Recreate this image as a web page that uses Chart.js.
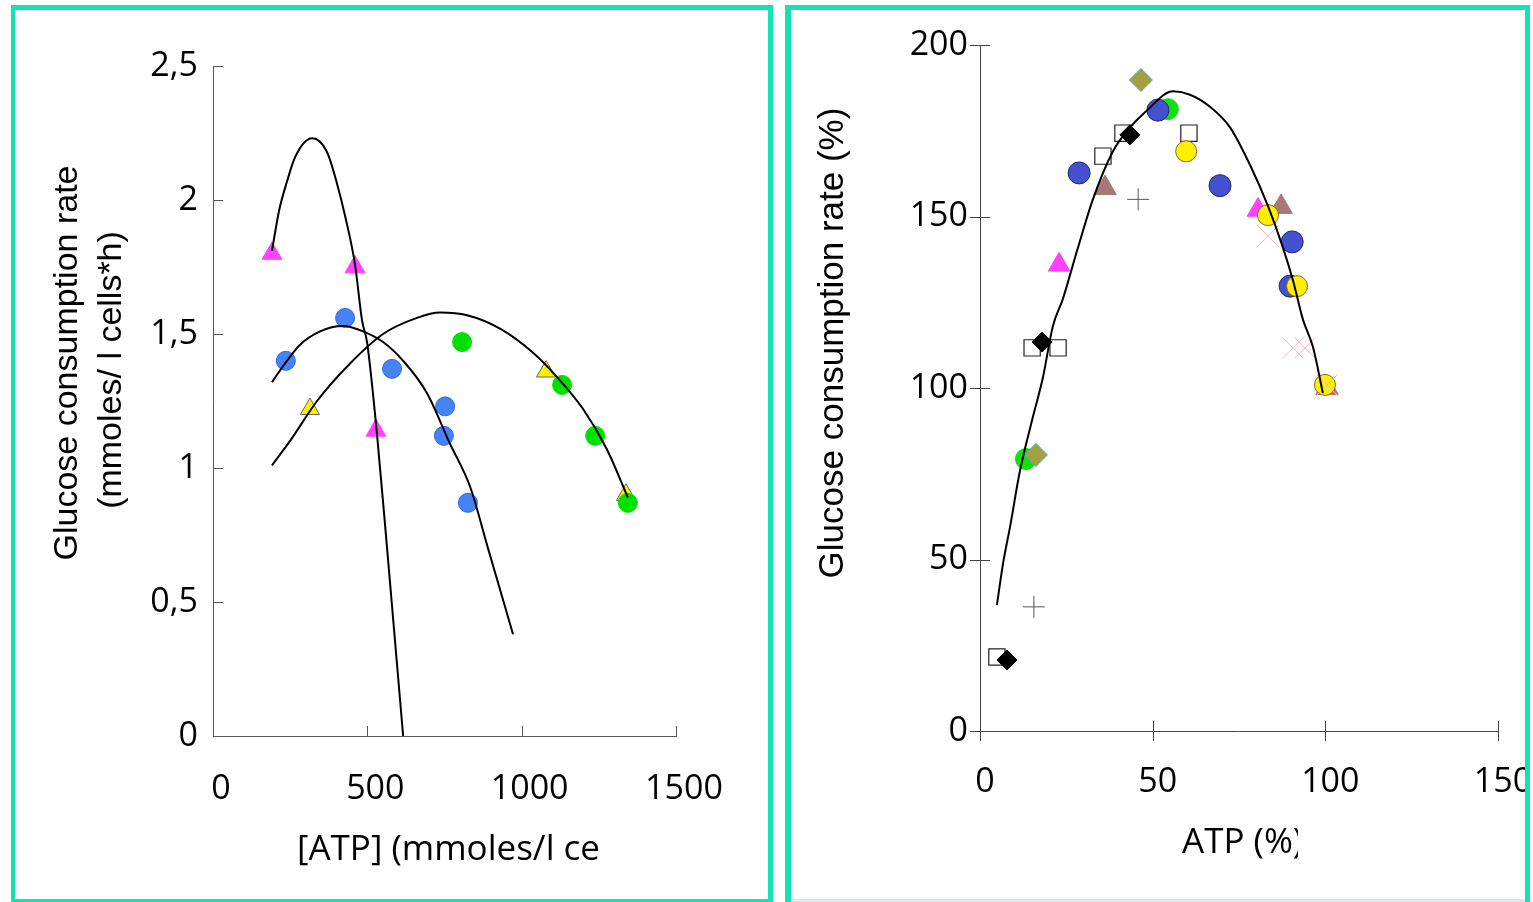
<!DOCTYPE html>
<html>
<head>
<meta charset="utf-8">
<script src="https://cdn.jsdelivr.net/npm/chart.js@4.4.1/dist/chart.umd.min.js"></script>
<style>
html, body { margin: 0; padding: 0; background: #fff; overflow: hidden; width: 1533px; height: 902px; }
.panel { position: absolute; border: 5px solid #12E2B6; box-sizing: border-box; }
#panelLeft { left: 11px; top: 5px; width: 762px; height: 899px; border-left-width: 4px; }
#panelRight { left: 785px; top: 5px; width: 745px; height: 910px; border-left-width: 6px; }
#bottomStrip { position: absolute; left: 791px; top: 899px; width: 734px; height: 3px; background: #DCE6F4; }
canvas { position: absolute; }
#leftChart { left: 15px; top: 10px; }
#rightChart { left: 791px; top: 10px; }
</style>
</head>
<body>
<div class="panel" id="panelLeft"></div>
<div class="panel" id="panelRight"></div>
<div id="bottomStrip"></div>
<canvas id="leftChart" width="753" height="892"></canvas>
<canvas id="rightChart" width="734" height="892"></canvas>
<script>
// ---- left panel: absolute values ----
var leftXTicks = [0, 500, 1000, 1500];
var leftYTicks = [0, 0.5, 1, 1.5, 2, 2.5];

var magentaAtp = [191, 460, 528];
var magentaRate = [1.80, 1.75, 1.14];
var blueAtp = [236, 428, 580, 752, 748, 826];
var blueRate = [1.40, 1.56, 1.37, 1.23, 1.12, 0.87];
var greenAtp = [807, 1131, 1238, 1344];
var greenRate = [1.47, 1.31, 1.12, 0.87];
var yellowAtp = [314, 1079, 1338];
var yellowRate = [1.22, 1.36, 0.90];

// fitted curves
var fitMagentaX = [191, 214, 240, 266, 321, 369, 402, 428, 460, 483, 499, 531, 564, 616];
var fitMagentaY = [1.81, 1.96, 2.07, 2.16, 2.23, 2.18, 2.06, 1.94, 1.76, 1.55, 1.47, 1.13, 0.70, 0];
var fitBlueX = [191, 227, 282, 347, 421, 486, 551, 616, 693, 768, 833, 891, 972];
var fitBlueY = [1.32, 1.38, 1.46, 1.51, 1.53, 1.51, 1.47, 1.40, 1.28, 1.09, 0.93, 0.70, 0.38];
var fitGreenX = [191, 249, 337, 444, 551, 661, 735, 823, 930, 1037, 1114, 1199, 1276, 1344];
var fitGreenY = [1.01, 1.10, 1.25, 1.39, 1.50, 1.56, 1.58, 1.57, 1.52, 1.43, 1.34, 1.22, 1.07, 0.89];

// ---- right panel: percent values ----
var rightXTicks = [0, 50, 100, 150];
var rightYTicks = [0, 50, 100, 150, 200];

var blueDotX = [28.7, 51.5, 69.5, 90.4, 89.8];
var blueDotY = [162.7, 181, 159, 142.6, 129.7];
var greenDotX = [54.4, 13.3];
var greenDotY = [181.3, 79.3];
var oliveX = [46.6, 16.2];
var oliveY = [189.8, 80.5];
var openSqX = [41.4, 35.6, 60.5, 15.1, 22.6, 4.9];
var openSqY = [174.3, 167.6, 174.3, 111.7, 111.7, 21.6];
var blackDiaX = [43.4, 18, 7.8];
var blackDiaY = [173.8, 113.4, 20.7];
var brownTriX = [36.2, 87.2, 100.5];
var brownTriY = [158.3, 152.8, 100];
var plusX = [45.8, 15.6];
var plusY = [155, 36.2];
var yellowDotX = [59.7, 83.4, 91.8, 99.9];
var yellowDotY = [169, 150.4, 129.7, 100.9];
var pinkTriX = [22.9, 80.5];
var pinkTriY = [135.9, 151.9];
var crossX = [83.4, 90.6, 94.1, 100.5];
var crossY = [144.3, 111.7, 111.7, 100.9];

var fitPctX = [4.9, 6.7, 8.7, 11.6, 15.1, 18.2, 21.1, 24, 28.1, 32.7, 38.5, 42.6, 48.4, 55.9, 60.8, 66.6, 72.4, 78.2, 83.4, 87.7, 90.6, 93.5, 96.4, 99.3];
var fitPctY = [36.7, 49, 59.5, 76, 90.7, 103, 118, 126, 140, 155, 169, 175, 181, 186.5, 185.5, 182, 176, 165, 153, 141, 131.5, 120, 112, 98.5];

function pts(xs, ys) {
    return xs.map(function (x, i) { return {x: x, y: ys[i]}; });
}

function markers(xs, ys, style, radius, fill, border, bw) {
    return {
        data: pts(xs, ys),
        pointStyle: style,
        pointRadius: radius,
        backgroundColor: fill,
        borderColor: border,
        borderWidth: bw,
        showLine: false,
        clip: false
    };
}

function curve(xs, ys) {
    return {
        data: pts(xs, ys),
        showLine: true,
        pointRadius: 0,
        borderColor: '#000',
        borderWidth: 2,
        cubicInterpolationMode: 'monotone',
        clip: false
    };
}

// tick marks drawn from the scales (inside / outside the axis)
function tickMarks(inside, outside, color) {
    return {
        id: 'tickMarks',
        afterDraw: function (chart) {
            var ctx = chart.ctx;
            var xs = chart.scales.x, ys = chart.scales.y;
            ctx.save();
            ctx.strokeStyle = color;
            ctx.lineWidth = 1;
            ctx.beginPath();
            ys.ticks.forEach(function (t) {
                var py = Math.round(ys.getPixelForValue(t.value)) + 0.5;
                ctx.moveTo(ys.right - outside, py);
                ctx.lineTo(ys.right + inside, py);
            });
            xs.ticks.forEach(function (t) {
                var px = Math.round(xs.getPixelForValue(t.value)) + 0.5;
                ctx.moveTo(px, xs.top + outside);
                ctx.lineTo(px, xs.top - inside);
            });
            ctx.stroke();
            ctx.restore();
        }
    };
}

// axis titles (the original ones sit off-centre and are cut off)
function axisTitles(items) {
    return {
        id: 'axisTitles',
        afterDraw: function (chart) {
            var ctx = chart.ctx;
            items.forEach(function (it) {
                ctx.save();
                if (it.clipRight) {
                    ctx.beginPath();
                    ctx.rect(0, 0, it.clipRight, chart.height);
                    ctx.clip();
                }
                ctx.translate(it.x, it.y);
                ctx.rotate(it.rot || 0);
                ctx.font = it.font;
                ctx.fillStyle = '#000';
                ctx.textAlign = it.align || 'center';
                ctx.textBaseline = 'middle';
                ctx.fillText(it.text, 0, 0);
                ctx.restore();
            });
        }
    };
}

function commaFmt(v) {
    return String(v).replace('.', ',');
}

function plainFmt(v) {
    return String(v);
}

var tickFont = {family: "'Open Sans', sans-serif", size: 34};

Chart.defaults.animation = false;
Chart.defaults.color = '#000';

var leftChart = new Chart(document.getElementById('leftChart'), {
    type: 'scatter',
    data: {
        datasets: [
            curve(fitMagentaX, fitMagentaY),
            curve(fitBlueX, fitBlueY),
            curve(fitGreenX, fitGreenY),
            markers(greenAtp, greenRate, 'circle', 9.5, '#00E000', '#00E000', 1),
            markers(yellowAtp, yellowRate, 'triangle', 11, '#FFF000', '#666', 1),
            markers(blueAtp, blueRate, 'circle', 9.5, '#4684F6', '#2F68E6', 1),
            markers(magentaAtp, magentaRate, 'triangle', 11.5, '#FF44FF', '#FF44FF', 1)
        ]
    },
    options: {
        responsive: false,
        events: [],
        layout: {padding: {top: 56, right: 92, left: 0, bottom: 0}},
        plugins: {legend: {display: false}, tooltip: {enabled: false}},
        scales: {
            x: {
                type: 'linear', min: 0, max: 1500,
                afterBuildTicks: function (s) { s.ticks = leftXTicks.map(function (v) { return {value: v}; }); },
                afterFit: function (s) { s.height = 166; s.paddingLeft = 0; s.paddingRight = 0; },
                grid: {display: false, drawTicks: false},
                border: {display: true, color: '#555', width: 1},
                ticks: {font: tickFont, padding: 33, labelOffset: 8, maxRotation: 0, autoSkip: false, callback: plainFmt}
            },
            y: {
                type: 'linear', min: 0, max: 2.5,
                afterBuildTicks: function (s) { s.ticks = leftYTicks.map(function (v) { return {value: v}; }); },
                afterFit: function (s) { s.width = 198; s.paddingTop = 0; s.paddingBottom = 0; },
                grid: {display: false, drawTicks: false},
                border: {display: true, color: '#555', width: 1},
                ticks: {font: tickFont, padding: 15, autoSkip: false, callback: commaFmt}
            }
        }
    },
    plugins: [
        tickMarks(10, 0, '#555'),
        axisTitles([
            {text: 'Glucose consumption rate', x: 53, y: 353, rot: -Math.PI / 2, font: "34px 'Liberation Sans', Arial, sans-serif"},
            {text: '(mmoles/ l cells*h)', x: 97, y: 360, rot: -Math.PI / 2, font: "34px 'Liberation Sans', Arial, sans-serif"},
            {text: '[ATP] (mmoles/l cells)', x: 282, y: 840, align: 'left', clipRight: 583, font: "35px 'Open Sans', sans-serif"}
        ])
    ]
});

var rightChart = new Chart(document.getElementById('rightChart'), {
    type: 'scatter',
    data: {
        datasets: [
            curve(fitPctX, fitPctY),
            markers(crossX, crossY, 'crossRot', 15, '#FFB4B4', '#FFB4B4', 1),
            markers(yellowDotX, yellowDotY, 'circle', 10.5, '#FFF000', '#8A6A20', 1),
            markers(blueDotX, blueDotY, 'circle', 11, '#4450D0', '#1F2A70', 1),
            markers(plusX, plusY, 'cross', 11, '#555', '#555', 1),
            markers(blackDiaX, blackDiaY, 'rectRot', 10, '#000', '#000', 1),
            markers(openSqX, openSqY, 'rect', 11.5, '#fff', '#222', 1.2),
            markers(oliveX, oliveY, 'rectRot', 11.5, '#A3A044', '#4AB0B0', 1),
            markers(greenDotX, greenDotY, 'circle', 10.5, '#10E010', '#10E010', 1),
            markers(pinkTriX, pinkTriY, 'triangle', 12.5, '#FF40FF', '#FF40FF', 1),
            markers(brownTriX, brownTriY, 'triangle', 13, '#A87878', '#A87878', 1)
        ]
    },
    options: {
        responsive: false,
        events: [],
        layout: {padding: {top: 35, right: 27, left: 0, bottom: 0}},
        plugins: {legend: {display: false}, tooltip: {enabled: false}},
        scales: {
            x: {
                type: 'linear', min: 0, max: 150,
                afterBuildTicks: function (s) { s.ticks = rightXTicks.map(function (v) { return {value: v}; }); },
                afterFit: function (s) { s.height = 171; s.paddingLeft = 0; s.paddingRight = 0; },
                grid: {display: false, drawTicks: false},
                border: {display: true, color: '#444', width: 1},
                ticks: {font: tickFont, padding: 31, labelOffset: 5, maxRotation: 0, autoSkip: false, callback: plainFmt}
            },
            y: {
                type: 'linear', min: 0, max: 200,
                afterBuildTicks: function (s) { s.ticks = rightYTicks.map(function (v) { return {value: v}; }); },
                afterFit: function (s) { s.width = 189; s.paddingTop = 0; s.paddingBottom = 0; },
                grid: {display: false, drawTicks: false},
                border: {display: true, color: '#444', width: 1},
                ticks: {font: tickFont, padding: 12, autoSkip: false, callback: plainFmt}
            }
        }
    },
    plugins: [
        tickMarks(10, 10, '#444'),
        axisTitles([
            {text: 'Glucose consumption rate (%)', x: 42, y: 333, rot: -Math.PI / 2, font: "35px 'Liberation Sans', Arial, sans-serif"},
            {text: 'ATP (%)', x: 391, y: 833, align: 'left', clipRight: 507, font: "35px 'Open Sans', sans-serif"}
        ])
    ]
});
</script>
</body>
</html>
